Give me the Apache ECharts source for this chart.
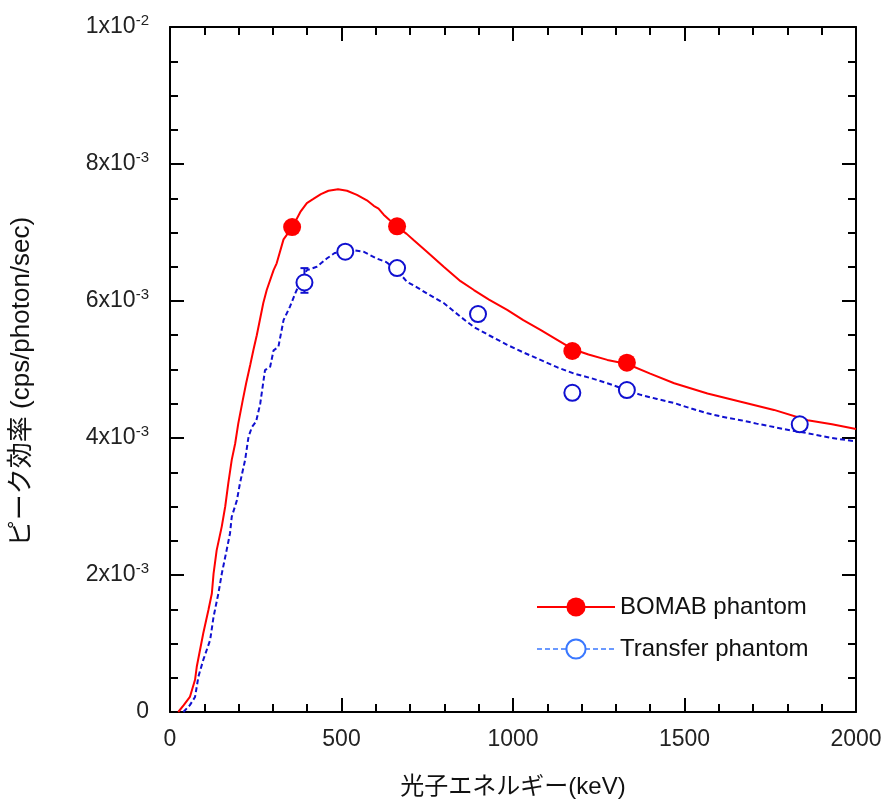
<!DOCTYPE html>
<html>
<head>
<meta charset="utf-8">
<script src="https://cdn.jsdelivr.net/npm/echarts@6/dist/echarts.min.js"></script>
<style>html,body{margin:0;padding:0;background:#fff}#c{width:885px;height:805px}</style>
</head>
<body>
<div id="c"></div>
<script>
// Energies in keV, efficiencies in units of 1e-3 cps/photon/sec
const bomabCurveE = [24, 40, 58, 73, 78, 97, 112, 122, 127, 136, 151, 161, 170, 180, 190, 199, 212, 222, 234, 243, 253, 272, 282, 302, 311, 331, 341, 357, 380, 399, 418, 440, 462, 490, 516, 545, 574, 594, 608, 623, 660, 690, 710, 749, 798, 847, 886, 930, 983, 1030, 1080, 1130, 1173, 1220, 1275, 1333, 1400, 1470, 1567, 1664, 1761, 1859, 1930, 2000];
const bomabCurveV = [0, 0.10, 0.22, 0.47, 0.66, 1.15, 1.49, 1.73, 2.02, 2.36, 2.71, 3.00, 3.34, 3.68, 3.92, 4.21, 4.55, 4.80, 5.07, 5.28, 5.50, 5.97, 6.16, 6.45, 6.55, 6.90, 6.97, 7.08, 7.30, 7.43, 7.49, 7.56, 7.61, 7.63, 7.61, 7.55, 7.47, 7.39, 7.35, 7.26, 7.09, 6.98, 6.89, 6.72, 6.50, 6.29, 6.16, 6.02, 5.87, 5.72, 5.58, 5.43, 5.30, 5.22, 5.14, 5.08, 4.94, 4.80, 4.65, 4.53, 4.41, 4.26, 4.20, 4.13];

const transferCurveE = [39, 58, 73, 83, 97, 117, 127, 141, 151, 165, 175, 180, 195, 204, 219, 229, 239, 251, 263, 277, 292, 302, 316, 331, 350, 365, 380, 399, 428, 457, 480, 511, 535, 564, 603, 630, 660, 691, 720, 749, 798, 847, 886, 930, 983, 1030, 1080, 1130, 1178, 1230, 1275, 1320, 1372, 1420, 1470, 1520, 1567, 1610, 1664, 1710, 1761, 1810, 1859, 1930, 2000];
const transferCurveV = [0, 0.10, 0.22, 0.52, 0.76, 1.05, 1.39, 1.73, 2.02, 2.36, 2.61, 2.85, 3.09, 3.34, 3.68, 4.02, 4.16, 4.24, 4.50, 4.99, 5.04, 5.28, 5.33, 5.72, 5.92, 6.11, 6.28, 6.45, 6.50, 6.62, 6.70, 6.72, 6.74, 6.72, 6.62, 6.57, 6.46, 6.28, 6.20, 6.11, 5.97, 5.77, 5.62, 5.50, 5.36, 5.25, 5.14, 5.03, 4.94, 4.87, 4.80, 4.72, 4.63, 4.57, 4.51, 4.43, 4.36, 4.31, 4.26, 4.21, 4.16, 4.11, 4.07, 4.00, 3.95];

const bomabPtE = [356, 662, 1173, 1332];
const bomabPtV = [7.08, 7.09, 5.27, 5.10];
const transferPtE = [392, 511, 662, 898, 1173, 1332, 1836];
const transferPtV = [6.27, 6.72, 6.48, 5.81, 4.66, 4.70, 4.20];
const errBarE = [392];
const errBarLow = [6.12];
const errBarHigh = [6.48];

const yTickLabels = ['0', '2x10{sup|-3}', '4x10{sup|-3}', '6x10{sup|-3}', '8x10{sup|-3}', '1x10{sup|-2}'];
const xTickLabels = ['0', '500', '1000', '1500', '2000'];

const zip = (a, b) => a.map((v, i) => [v, b[i]]);
const FONT = '"Liberation Sans", Arial, "Noto Sans CJK JP", sans-serif';
const RED = '#ff0000';
const BLUE = '#1010d0';
const LBLUE = '#3a78ff';

const chart = echarts.init(document.getElementById('c'), null, {renderer: 'canvas'});

function axis(extra, splitNumber) {
  return Object.assign({
    type: 'value',
    axisLine: {show: true, onZero: false, lineStyle: {color: '#000', width: 2}},
    axisTick: {show: true, inside: true, length: 14, lineStyle: {color: '#000', width: 2}},
    minorTick: {show: true, splitNumber: splitNumber, length: 8, lineStyle: {color: '#000', width: 2}},
    splitLine: {show: false}
  }, extra);
}

chart.setOption({
  animation: false,
  backgroundColor: '#fff',
  grid: {left: 170, top: 27, right: 29, bottom: 93, containLabel: false},
  legend: {
    orient: 'vertical',
    left: 531, top: 590,
    itemWidth: 78, itemHeight: 24, itemGap: 18,
    textStyle: {fontSize: 24, lineHeight: 24, fontFamily: FONT, color: '#111'},
    data: [
      {name: 'BOMAB phantom'},
      {name: 'Transfer phantom', lineStyle: {color: LBLUE, width: 1.5},
        itemStyle: {color: LBLUE, borderColor: LBLUE, borderWidth: 2}}
    ]
  },
  xAxis: [
    axis({
      min: 0, max: 2000, interval: 500, position: 'bottom',
      axisLabel: {fontSize: 23, fontFamily: FONT, color: '#222', margin: 16,
        formatter: v => xTickLabels[Math.round(v / 500)]},
      name: '光子エネルギー(keV)', nameLocation: 'middle', nameGap: 63,
      nameTextStyle: {fontSize: 24, fontFamily: FONT, color: '#111'}
    }, 5),
    axis({
      min: 0, max: 2000, interval: 500, position: 'top',
      axisLabel: {show: false}
    }, 5)
  ],
  yAxis: [
    axis({
      min: 0, max: 10, interval: 2, position: 'left',
      axisLabel: {
        fontSize: 23, fontFamily: FONT, color: '#222', margin: 21,
        formatter: v => yTickLabels[Math.round(v / 2)],
        rich: {sup: {fontSize: 15, fontFamily: FONT, color: '#222', padding: [0, 0, 13, 0]}}
      },
      name: 'ピーク効率 (cps/photon/sec)', nameLocation: 'middle', nameGap: 135, nameRotate: 90,
      nameTextStyle: {fontSize: 26, fontFamily: FONT, color: '#111', padding: [0, 24, 0, 0]}
    }, 4),
    axis({
      min: 0, max: 10, interval: 2, position: 'right',
      axisLabel: {show: false}
    }, 4)
  ],
  series: [
    {
      name: 'BOMAB phantom', type: 'line', data: zip(bomabCurveE, bomabCurveV),
      showSymbol: false, symbol: 'circle', symbolSize: 20,
      itemStyle: {color: RED}, lineStyle: {color: RED, width: 2}, z: 3
    },
    {
      name: 'Transfer phantom', type: 'line', data: zip(transferCurveE, transferCurveV),
      showSymbol: false, symbol: 'emptyCircle', symbolSize: 18,
      itemStyle: {color: LBLUE, borderColor: LBLUE, borderWidth: 2},
      lineStyle: {color: BLUE, width: 2, type: [5, 3]}, z: 2
    },
    {
      name: 'BOMAB pts', type: 'scatter', data: zip(bomabPtE, bomabPtV),
      symbol: 'circle', symbolSize: 18, itemStyle: {color: RED, opacity: 1}, z: 4
    },
    {
      name: 'Transfer pts', type: 'scatter', data: zip(transferPtE, transferPtV),
      symbol: 'circle', symbolSize: 16,
      itemStyle: {color: '#fff', borderColor: BLUE, borderWidth: 2, opacity: 1}, z: 5
    },
    {
      name: 'Transfer err', type: 'custom', z: 4,
      data: errBarE.map((e, i) => [e, errBarLow[i], errBarHigh[i]]),
      renderItem: (params, api) => {
        const lo = api.coord([api.value(0), api.value(1)]);
        const hi = api.coord([api.value(0), api.value(2)]);
        const w = 4;
        const st = {stroke: BLUE, lineWidth: 2};
        return {type: 'group', children: [
          {type: 'line', shape: {x1: lo[0], y1: lo[1], x2: hi[0], y2: hi[1]}, style: st},
          {type: 'line', shape: {x1: lo[0] - w, y1: lo[1], x2: lo[0] + w, y2: lo[1]}, style: st},
          {type: 'line', shape: {x1: hi[0] - w, y1: hi[1], x2: hi[0] + w, y2: hi[1]}, style: st}
        ]};
      }
    }
  ]
});
</script>
</body>
</html>
